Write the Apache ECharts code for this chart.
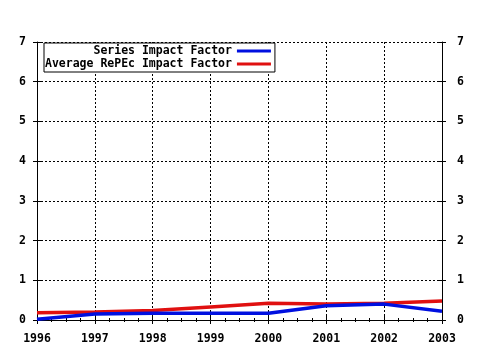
<!DOCTYPE html>
<html><head><meta charset="utf-8">
<script src="https://cdn.jsdelivr.net/npm/echarts@6/dist/echarts.min.js"></script>
<style>html,body{margin:0;padding:0;background:#fff}#c{width:480px;height:350px}</style>
</head><body><div id="c"></div>
<script>
const years = [1996, 1997, 1998, 1999, 2000, 2001, 2002, 2003];
const seriesImpact = [0.02, 0.15, 0.17, 0.17, 0.17, 0.36, 0.40, 0.22];
const averageImpact = [0.18, 0.20, 0.24, 0.33, 0.42, 0.40, 0.42, 0.48];
const seriesNames = ['Series Impact Factor', 'Average RePEc Impact Factor'];
const yTicks = [0, 1, 2, 3, 4, 5, 6, 7];

const FONT = 'DejaVu Sans Mono';
const lab = {fontFamily: FONT, fontWeight: 'bold', fontSize: 11.5, color: '#000'};
const pairs = arr => years.map((y, i) => [y, arr[i]]);
const maxLen = Math.max(...seriesNames.map(s => s.length));

const xBase = {type: 'value', min: years[0], max: years[years.length - 1], interval: 1};
const yBase = {type: 'value', min: yTicks[0], max: yTicks[yTicks.length - 1], interval: 1};

const chart = echarts.init(document.getElementById('c'), null, {renderer: 'canvas'});
chart.setOption({
  animation: false,
  backgroundColor: '#fff',
  grid: {left: 37, right: 38, top: 42, bottom: 30},
  legend: {
    orient: 'vertical', left: 44, top: 43, align: 'right',
    backgroundColor: '#fff', borderColor: '#000', borderWidth: 1, borderRadius: 0,
    padding: [2, 4, 2, 1], itemGap: 1, itemWidth: 34, itemHeight: 3, icon: 'rect',
    textStyle: Object.assign({}, lab, {lineHeight: 12}),
    formatter: n => n.padStart(maxLen, ' '),
    data: seriesNames
  },
  xAxis: [
    Object.assign({}, xBase, {
      position: 'bottom',
      axisLine: {lineStyle: {color: '#000', width: 1}},
      axisTick: {show: true, length: 4, lineStyle: {color: '#000'}},
      minorTick: {show: true, splitNumber: 4, length: 2, lineStyle: {color: '#000'}},
      axisLabel: Object.assign({}, lab, {margin: 13, formatter: v => String(v)}),
      splitLine: {show: true, lineStyle: {color: '#000', type: [2, 2], width: 1}}
    }),
    Object.assign({}, xBase, {
      position: 'top',
      axisLine: {lineStyle: {color: '#000', width: 1}},
      axisTick: {show: true, length: 4, lineStyle: {color: '#000'}},
      minorTick: {show: true, splitNumber: 4, length: 2, lineStyle: {color: '#000'}},
      axisLabel: {show: false},
      splitLine: {show: false}
    })
  ],
  yAxis: [
    Object.assign({}, yBase, {
      position: 'left',
      axisLine: {show: true, lineStyle: {color: '#000', width: 1}},
      axisTick: {show: true, length: 4, lineStyle: {color: '#000'}},
      axisLabel: Object.assign({}, lab, {margin: 11}),
      splitLine: {show: true, lineStyle: {color: '#000', type: [2, 2], width: 1}}
    }),
    Object.assign({}, yBase, {
      position: 'left',
      axisLine: {show: false},
      axisTick: {show: true, inside: true, length: 4, lineStyle: {color: '#000'}},
      axisLabel: {show: false},
      splitLine: {show: false}
    }),
    Object.assign({}, yBase, {
      position: 'right',
      axisLine: {show: true, lineStyle: {color: '#000', width: 1}},
      axisTick: {show: true, length: 4, lineStyle: {color: '#000'}},
      axisLabel: Object.assign({}, lab, {margin: 15}),
      splitLine: {show: false}
    }),
    Object.assign({}, yBase, {
      position: 'right',
      axisLine: {show: false},
      axisTick: {show: true, inside: true, length: 4, lineStyle: {color: '#000'}},
      axisLabel: {show: false},
      splitLine: {show: false}
    })
  ],
  series: [
    {name: seriesNames[0], type: 'line', data: pairs(seriesImpact), showSymbol: false, symbol: 'none',
     lineStyle: {color: '#0010e0', width: 3.5}, itemStyle: {color: '#0010e0'}, z: 3},
    {name: seriesNames[1], type: 'line', data: pairs(averageImpact), showSymbol: false, symbol: 'none',
     lineStyle: {color: '#e01010', width: 3.5}, itemStyle: {color: '#e01010'}, z: 2}
  ]
});
</script></body></html>
